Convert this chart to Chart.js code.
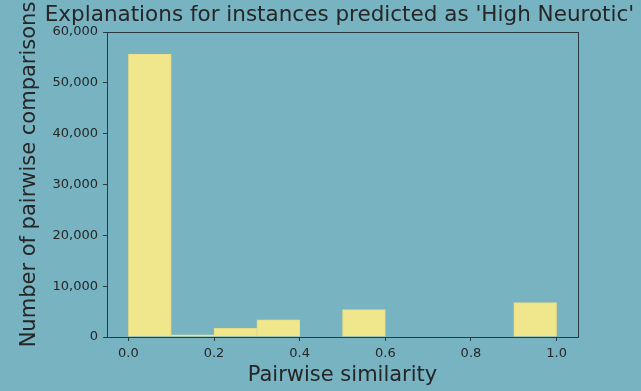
<!DOCTYPE html>
<html>
<head>
<meta charset="utf-8">
<script src="https://cdn.jsdelivr.net/npm/chart.js@4/dist/chart.umd.min.js"></script>
<style>
  html, body { margin: 0; padding: 0; background: #78b3c2; }
  #wrap { width: 641px; height: 391px; }
</style>
</head>
<body>
<div id="wrap"><canvas id="chart"></canvas></div>
<script>
// histogram bins (left edges) and counts
const binEdges = [0.0, 0.1, 0.2, 0.3, 0.4, 0.5, 0.6, 0.7, 0.8, 0.9];
const binCounts = [55670, 450, 1710, 3400, 0, 5370, 0, 0, 0, 6750];
const xTicks = [0.0, 0.2, 0.4, 0.6, 0.8, 1.0];
const yTicks = [0, 10000, 20000, 30000, 40000, 50000, 60000];

const chartTitle = "Explanations for instances predicted as 'High Neurotic'";
const textColor = "#262626";
const spineColor = "#2b3a3f";

// matplotlib-like frame and centred title
const framePlugin = {
  id: "frame",
  afterDraw(chart) {
    const { ctx, chartArea } = chart;
    ctx.save();
    ctx.strokeStyle = spineColor;
    ctx.lineWidth = 1;
    ctx.strokeRect(chartArea.left + 0.5, chartArea.top + 0.5,
      chartArea.right - chartArea.left, chartArea.bottom - chartArea.top);
    ctx.fillStyle = textColor;
    ctx.font = "21.5px 'DejaVu Sans'";
    ctx.textAlign = "center";
    ctx.textBaseline = "alphabetic";
    ctx.fillText(chartTitle, (chartArea.left + chartArea.right) / 2 - 3, chartArea.top - 11);
    ctx.restore();
  },
};

const ctx = document.getElementById("chart").getContext("2d");
new Chart(ctx, {
  type: "bar",
  data: {
    datasets: [
      {
        data: binEdges.map((e, i) => ({ x: e + 0.05, y: binCounts[i] })),
        backgroundColor: "#f0e68c",
        borderColor: "#e6dc86",
        borderWidth: 1,
        barPercentage: 1,
        categoryPercentage: 1,
      },
    ],
  },
  options: {
    responsive: true,
    maintainAspectRatio: false,
    animation: false,
    layout: { padding: { left: 0, right: 63, top: 32, bottom: 0 } },
    plugins: {
      legend: { display: false },
      tooltip: { enabled: false },
      title: { display: false },
    },
    scales: {
      x: {
        type: "linear",
        offset: false,
        min: -0.05,
        max: 1.05,
        afterBuildTicks: (scale) => {
          scale.ticks = xTicks.map((v) => ({ value: v }));
        },
        afterFit: (scale) => {
          scale.height = 54;
        },
        grid: {
          offset: false,
          drawOnChartArea: false,
          drawTicks: true,
          tickLength: 4,
          color: spineColor,
        },
        border: { display: true, color: spineColor },
        ticks: {
          color: textColor,
          font: { family: "DejaVu Sans", size: 13 },
          padding: 5,
          maxRotation: 0,
          callback: (v) => Number(v).toFixed(1),
        },
        title: {
          display: true,
          text: "Pairwise similarity",
          color: textColor,
          font: { family: "DejaVu Sans", size: 21 },
          padding: { top: 0, bottom: 3 },
        },
      },
      y: {
        min: 0,
        max: 60000,
        afterBuildTicks: (scale) => {
          scale.ticks = yTicks.map((v) => ({ value: v }));
        },
        afterFit: (scale) => {
          scale.width = 107;
        },
        grid: {
          drawOnChartArea: false,
          drawTicks: true,
          tickLength: 4,
          color: spineColor,
        },
        border: { display: true, color: spineColor },
        ticks: {
          color: textColor,
          font: { family: "DejaVu Sans", size: 13 },
          padding: 5,
          callback: (v) => Number(v).toLocaleString("en-US"),
        },
        title: {
          display: true,
          // leading spaces nudge the label upward like the original
          text: "   Number of pairwise comparisons",
          color: textColor,
          font: { family: "DejaVu Sans", size: 21 },
          padding: { top: 17, bottom: 0 },
        },
      },
    },
  },
  plugins: [framePlugin],
});
</script>
</body>
</html>
